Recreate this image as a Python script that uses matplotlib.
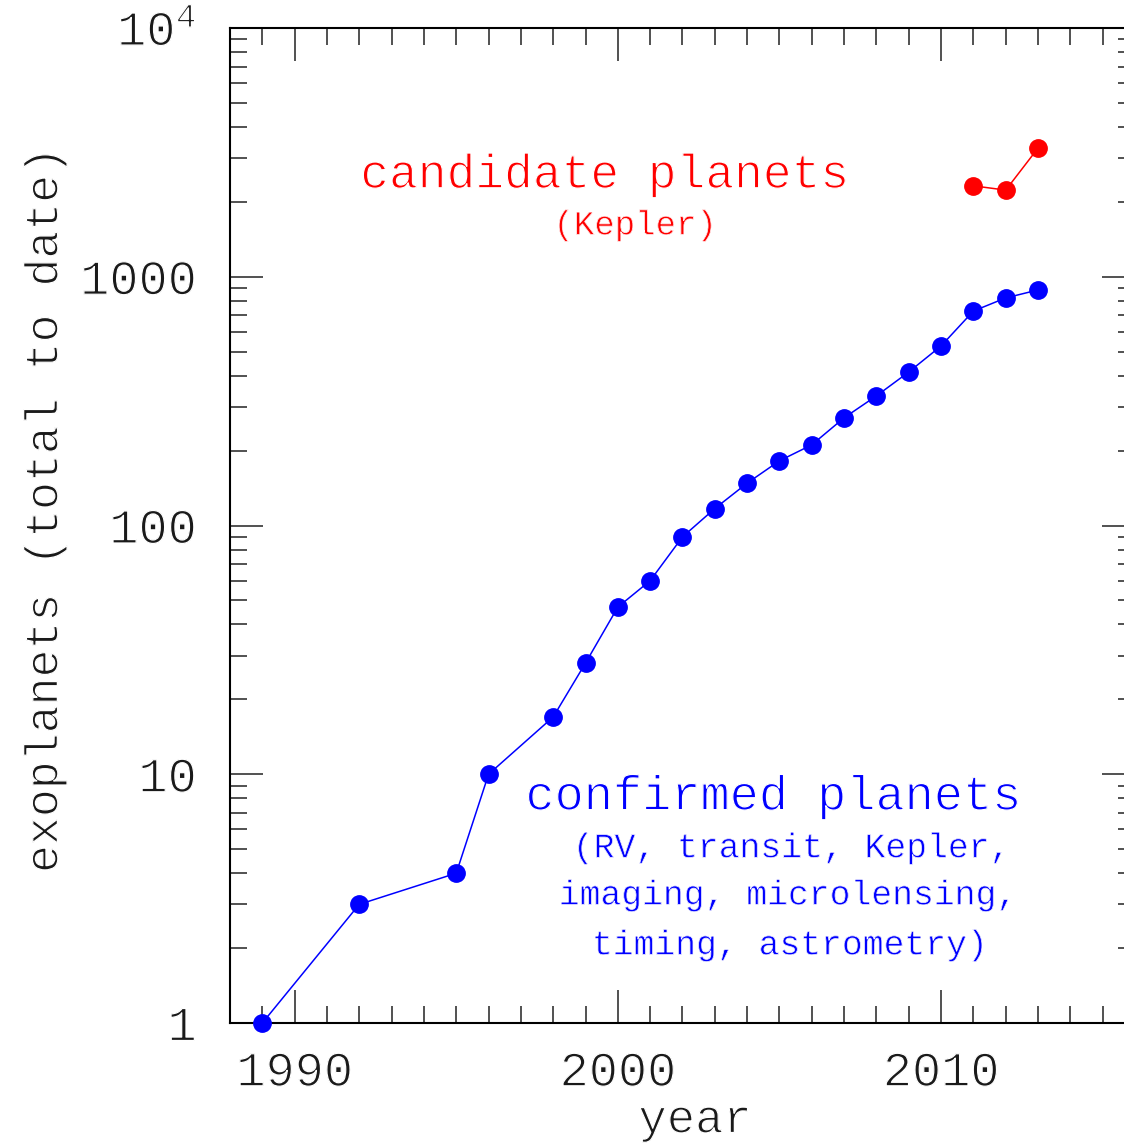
import numpy as np
import matplotlib
matplotlib.use('Agg')
from matplotlib import pyplot as plt
from matplotlib import patheffects
from matplotlib.ticker import FixedLocator, NullFormatter, MultipleLocator

plt.rcParams['font.family'] = ['Liberation Mono', 'DejaVu Sans Mono']
plt.rcParams['mathtext.fontset'] = 'custom'
plt.rcParams['mathtext.rm'] = 'Liberation Mono'
plt.rcParams['mathtext.it'] = 'Liberation Mono:italic'

# planets found, cumulative counts
conf_years = [1989, 1992, 1995, 1996, 1998, 1999, 2000, 2001, 2002, 2003, 2004,
              2005, 2006, 2007, 2008, 2009, 2010, 2011, 2012, 2013]
conf_counts = [1, 3, 4, 10, 17, 28, 47, 60, 90, 117, 148,
               182, 211, 271, 332, 414, 527, 728, 822, 885]

cand_years = [2011, 2012, 2013]
cand_counts = [2320, 2230, 3290]

ytick_vals = [1, 10, 100, 1000, 10000]
ytick_labels = ['1', '10', '100', '1000', r'$\mathregular{10^4}$']
xtick_vals = [1990, 2000, 2010]

# white outline on top of the glyphs to get a thin, pen-like stroke
thin = [patheffects.Normal(), patheffects.Stroke(linewidth=0.9, foreground='white')]
thin_small = [patheffects.Normal(), patheffects.Stroke(linewidth=0.55, foreground='white')]

fig = plt.figure(figsize=(11.24, 11.46), dpi=100)
ax = fig.add_axes([230/1124, 123/1146, 905/1124, 995/1146])

ax.plot(conf_years, conf_counts, '-', color='blue', lw=1.1, marker='o', ms=12.5,
        mec='blue', clip_on=False, zorder=5)
ax.plot(cand_years, cand_counts, '-', color='red', lw=1.1, marker='o', ms=12.5,
        mec='red', clip_on=False, zorder=5)

ax.set_yscale('log')
ax.set_xlim(1988, 2016)
ax.set_ylim(1, 10000)

ax.xaxis.set_major_locator(FixedLocator(xtick_vals))
ax.xaxis.set_minor_locator(MultipleLocator(1))
ax.set_xticklabels([str(v) for v in xtick_vals])
ax.yaxis.set_major_locator(FixedLocator(ytick_vals))
ax.set_yticklabels(ytick_labels)
ax.yaxis.set_minor_formatter(NullFormatter())

ax.tick_params(which='both', direction='in', top=True, right=True, width=1.2, colors='#333333')
ax.tick_params(which='major', length=24)
ax.tick_params(which='minor', length=12)
ax.tick_params(axis='x', which='major', pad=20, labelsize=35, labelcolor='#1a1a1a')
ax.tick_params(axis='y', which='major', pad=24, labelsize=35, labelcolor='#1a1a1a')
for s in ax.spines.values():
    s.set_linewidth(1.5)
for lbl in ax.get_xticklabels() + ax.get_yticklabels():
    lbl.set_path_effects(thin)

ax.text(0.514, -0.098, 'year', transform=ax.transAxes, ha='center', va='center',
        fontsize=34, color='#1a1a1a', path_effects=thin)
ax.text(-0.204, 0.515, 'exoplanets (total to date)', transform=ax.transAxes,
        ha='center', va='center', rotation=90, fontsize=33.5, color='#1a1a1a',
        path_effects=thin)

ax.text(0.414, 0.852, 'candidate planets', transform=ax.transAxes, ha='center',
        va='center', fontsize=34.5, color='red', path_effects=thin)
ax.text(0.4475, 0.801, '(Kepler)', transform=ax.transAxes, ha='center',
        va='center', fontsize=24.5, color='red', path_effects=thin_small)

ax.text(0.600, 0.227, 'confirmed planets', transform=ax.transAxes, ha='center',
        va='center', fontsize=35, color='blue', path_effects=thin)
ax.text(0.621, 0.176, '(RV, transit, Kepler,', transform=ax.transAxes, ha='center',
        va='center', fontsize=25, color='blue', path_effects=thin_small)
ax.text(0.617, 0.1286, 'imaging, microlensing,', transform=ax.transAxes, ha='center',
        va='center', fontsize=25, color='blue', path_effects=thin_small)
ax.text(0.619, 0.0784, 'timing, astrometry)', transform=ax.transAxes, ha='center',
        va='center', fontsize=25, color='blue', path_effects=thin_small)

fig.savefig('out.png', dpi=100)
